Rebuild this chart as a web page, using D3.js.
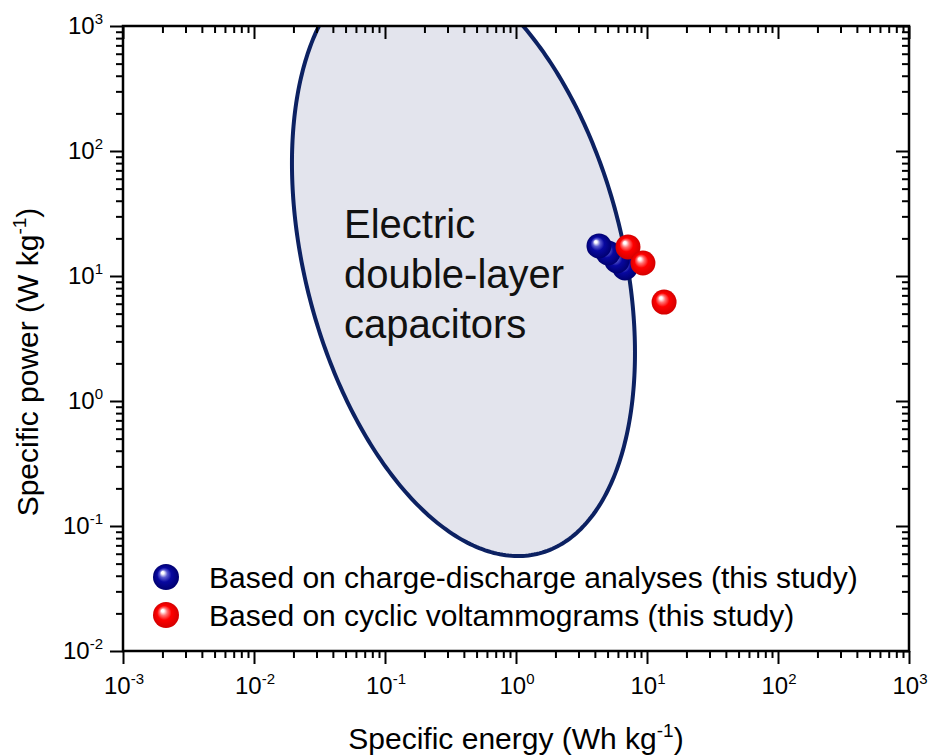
<!DOCTYPE html>
<html>
<head>
<meta charset="utf-8">
<script src="https://cdn.jsdelivr.net/npm/d3@7"></script>
<style>
  html, body { margin: 0; padding: 0; background: #fff; }
  svg { display: block; font-family: "Liberation Sans", Arial, Helvetica, sans-serif; }
</style>
</head>
<body>
<svg id="chart" width="929" height="755"></svg>
<script>
// ---- data ----
const xTickExponents = [-3, -2, -1, 0, 1, 2, 3];
const yTickExponents = [-2, -1, 0, 1, 2, 3];
const xDomain = [1e-3, 1e3];
const yDomain = [1e-2, 1e3];

// Charge-discharge analyses (blue)
const blueEnergy = [4.30, 5.04, 5.90, 6.79];
const bluePower  = [17.4, 15.3, 13.2, 11.6];
// Cyclic voltammograms (red)
const redEnergy = [7.16, 9.31, 13.5];
const redPower  = [17.1, 12.7, 6.19];

// EDLC region: ellipse in log10 space (center, semi-axes in decades, rotation in degrees)
const edlcCenter = [-0.401, 1.144];
const edlcAxes = [2.433, 1.2165];
const edlcAngle = -76.72;
const regionLabel = ["Electric", "double-layer", "capacitors"];
const legendLabels = ["Based on charge-discharge analyses (this study)", "Based on cyclic voltammograms (this study)"];

// ---- layout ----
const svg = d3.select("#chart");
const L = 123, R = 909, T = 26, B = 651;
const x = d3.scaleLog().domain(xDomain).range([L, R]);
const y = d3.scaleLog().domain(yDomain).range([B, T]);

const defs = svg.append("defs");
defs.append("clipPath").attr("id", "plotclip")
  .append("rect").attr("x", L).attr("y", T).attr("width", R - L).attr("height", B - T);

function sphereGrad(id, light, base, dark) {
  const g = defs.append("radialGradient").attr("id", id)
    .attr("cx", "0.5").attr("cy", "0.5").attr("r", "0.5")
    .attr("fx", "0.36").attr("fy", "0.32");
  g.append("stop").attr("offset", "0").attr("stop-color", "#ffffff");
  g.append("stop").attr("offset", "0.1").attr("stop-color", "#ffffff");
  g.append("stop").attr("offset", "0.3").attr("stop-color", light);
  g.append("stop").attr("offset", "0.55").attr("stop-color", base);
  g.append("stop").attr("offset", "1").attr("stop-color", dark);
}
sphereGrad("gblue", "#5a5ad0", "#0808a0", "#000070");
sphereGrad("gred", "#ff7070", "#ff0000", "#d40000");

// ---- EDLC ellipse ----
const phi = edlcAngle * Math.PI / 180;
const pts = d3.range(0, 361).map(i => {
  const t = i * Math.PI / 180;
  const u = edlcCenter[0] + edlcAxes[0] * Math.cos(t) * Math.cos(phi) - edlcAxes[1] * Math.sin(t) * Math.sin(phi);
  const v = edlcCenter[1] + edlcAxes[0] * Math.cos(t) * Math.sin(phi) + edlcAxes[1] * Math.sin(t) * Math.cos(phi);
  return [x(Math.pow(10, u)), y(Math.pow(10, v))];
});
svg.append("g").attr("clip-path", "url(#plotclip)")
  .append("path")
  .attr("d", d3.line()(pts) + "Z")
  .attr("fill", "#e3e4ed")
  .attr("stroke", "#0c2162")
  .attr("stroke-width", 4);

// region label
const lab = svg.append("text").attr("x", 344).attr("y", 238)
  .style("font-size", "40px").attr("fill", "#111");
regionLabel.forEach((s, i) => {
  lab.append("tspan").attr("x", 344).attr("y", 238 + i * 50).text(s);
});

// ---- axes ----
function minorValues(domain) {
  const out = [];
  const e0 = Math.round(Math.log10(domain[0])), e1 = Math.round(Math.log10(domain[1]));
  for (let e = e0; e < e1; e++) for (let k = 2; k <= 9; k++) out.push(k * Math.pow(10, e));
  return out;
}
const xMajor = xTickExponents.map(e => Math.pow(10, e));
const yMajor = yTickExponents.map(e => Math.pow(10, e));
const xMinor = minorValues(xDomain);
const yMinor = minorValues(yDomain);
const MAJ = 13, MIN = 7;

function styleAxis(g) {
  g.select(".domain").remove();
  g.selectAll(".tick line").attr("stroke", "#000").attr("stroke-width", 2);
}
// bottom (outward)
svg.append("g").attr("transform", `translate(0,${B})`)
  .call(d3.axisBottom(x).tickValues(xMajor).tickSize(MAJ).tickFormat("")).call(styleAxis);
svg.append("g").attr("transform", `translate(0,${B})`)
  .call(d3.axisBottom(x).tickValues(xMinor).tickSize(MIN).tickFormat("")).call(styleAxis);
// top (inward)
svg.append("g").attr("transform", `translate(0,${T})`)
  .call(d3.axisBottom(x).tickValues(xMajor).tickSize(MAJ).tickFormat("")).call(styleAxis);
svg.append("g").attr("transform", `translate(0,${T})`)
  .call(d3.axisBottom(x).tickValues(xMinor).tickSize(MIN).tickFormat("")).call(styleAxis);
// left (outward)
svg.append("g").attr("transform", `translate(${L},0)`)
  .call(d3.axisLeft(y).tickValues(yMajor).tickSize(MAJ).tickFormat("")).call(styleAxis);
svg.append("g").attr("transform", `translate(${L},0)`)
  .call(d3.axisLeft(y).tickValues(yMinor).tickSize(MIN).tickFormat("")).call(styleAxis);
// right (inward)
svg.append("g").attr("transform", `translate(${R},0)`)
  .call(d3.axisLeft(y).tickValues(yMajor).tickSize(MAJ).tickFormat("")).call(styleAxis);
svg.append("g").attr("transform", `translate(${R},0)`)
  .call(d3.axisLeft(y).tickValues(yMinor).tickSize(MIN).tickFormat("")).call(styleAxis);

// frame
svg.append("rect").attr("x", L).attr("y", T).attr("width", R - L).attr("height", B - T)
  .attr("fill", "none").attr("stroke", "#000").attr("stroke-width", 2.5);

// tick labels
function powLabel(sel, exp) {
  sel.append("tspan").style("font-size", "24px").text("10");
  sel.append("tspan").style("font-size", "15px").attr("dy", -10).text(String(exp));
}
xTickExponents.forEach(e => {
  const t = svg.append("text").attr("x", x(Math.pow(10, e)) + 1).attr("y", B + 43)
    .attr("text-anchor", "middle").attr("fill", "#000");
  powLabel(t, e);
});
yTickExponents.forEach(e => {
  const t = svg.append("text").attr("x", L - 20).attr("y", y(Math.pow(10, e)) + 8)
    .attr("text-anchor", "end").attr("fill", "#000");
  powLabel(t, e);
});

// axis titles
const xt = svg.append("text").attr("x", 516).attr("y", 749).attr("text-anchor", "middle")
  .style("font-size", "30px").attr("fill", "#000");
xt.append("tspan").text("Specific energy (Wh kg");
xt.append("tspan").style("font-size", "19px").attr("dy", -12).text("-1");
xt.append("tspan").attr("dy", 12).text(")");

const yt = svg.append("text").attr("transform", "translate(38,362) rotate(-90)")
  .attr("text-anchor", "middle").style("font-size", "30px").attr("fill", "#000");
yt.append("tspan").text("Specific power (W kg");
yt.append("tspan").style("font-size", "19px").attr("dy", -12).text("-1");
yt.append("tspan").attr("dy", 12).text(")");

// ---- data points ----
const blue = blueEnergy.map((v, i) => ({ e: v, p: bluePower[i] }));
const red = redEnergy.map((v, i) => ({ e: v, p: redPower[i] }));
const RAD = 12.5;
svg.append("g").selectAll("circle").data(blue.slice().reverse()).join("circle")
  .attr("cx", d => x(d.e)).attr("cy", d => y(d.p)).attr("r", RAD).attr("fill", "url(#gblue)");
svg.append("g").selectAll("circle").data(red).join("circle")
  .attr("cx", d => x(d.e)).attr("cy", d => y(d.p)).attr("r", RAD).attr("fill", "url(#gred)");

// ---- legend ----
const legend = svg.append("g");
["url(#gblue)", "url(#gred)"].forEach((f, i) => {
  legend.append("circle").attr("cx", 166).attr("cy", 577 + i * 38).attr("r", 13).attr("fill", f);
  legend.append("text").attr("x", 209).attr("y", 588 + i * 38)
    .style("font-size", "30px").attr("fill", "#000").text(legendLabels[i]);
});
</script>
</body>
</html>
